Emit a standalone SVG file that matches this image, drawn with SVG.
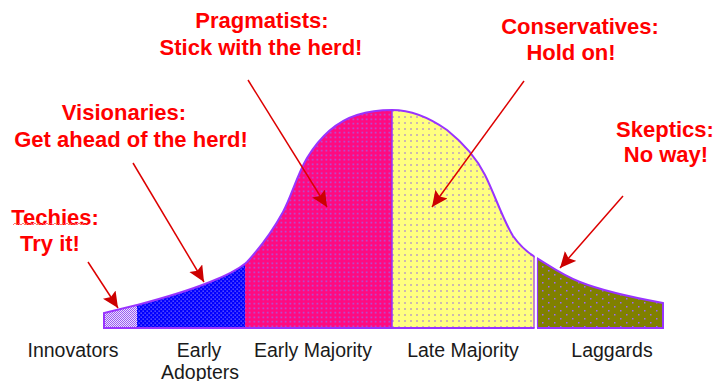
<svg xmlns="http://www.w3.org/2000/svg" xmlns:xlink="http://www.w3.org/1999/xlink" width="717" height="381" viewBox="0 0 717 381">
<style>
.lab{font-family:"Liberation Sans",Arial,sans-serif;font-size:19.5px;fill:#1a1a1a;text-anchor:middle}
.red{font-family:"Liberation Sans",Arial,sans-serif;font-size:22px;font-weight:bold;fill:#ff0000;text-anchor:middle}
.arr{stroke:#dd0000;stroke-width:1.5;fill:none;marker-end:url(#head)}
.edge{stroke:#9933ff;stroke-width:2;fill:none}
</style>
<defs>
<marker id="head" markerUnits="userSpaceOnUse" markerWidth="18" markerHeight="16" refX="16" refY="7.5" orient="auto">
<path d="M0,0 L16,7.5 L0,15 L3,7.5 Z" fill="#cc0000"/>
</marker>
<pattern id="pInn" width="2" height="2" patternUnits="userSpaceOnUse">
<rect width="2" height="2" fill="#eadcff"/><rect width="1" height="1" fill="#9a5ef0"/><rect x="1" y="1" width="1" height="1" fill="#9a5ef0"/>
</pattern>
<pattern id="pBlue" width="4" height="4" patternUnits="userSpaceOnUse">
<rect width="4" height="4" fill="#0000ff"/><rect x="0.5" y="0.5" width="1.3" height="1.3" fill="#7a6aff"/><rect x="2.5" y="2.5" width="1.3" height="1.3" fill="#7a6aff"/>
</pattern>
<pattern id="pPink" width="4.5" height="4.5" patternUnits="userSpaceOnUse">
<rect width="4.5" height="4.5" fill="#ff0a80"/><rect x="1.5" y="1.5" width="1.5" height="1.5" fill="#9a66f0"/>
</pattern>
<pattern id="pYel" width="6" height="6" patternUnits="userSpaceOnUse">
<rect width="6" height="6" fill="#ffff80"/><rect x="2.3" y="2.3" width="1.4" height="1.4" fill="#9a70e0"/>
</pattern>
<pattern id="pOl" width="12" height="8" patternUnits="userSpaceOnUse">
<rect width="12" height="8" fill="#808000"/><rect x="2" y="2" width="1.5" height="1.5" fill="#9a66ff"/><rect x="8" y="6" width="1.5" height="1.5" fill="#9a66ff"/>
</pattern>
<path id="bell" d="M104,328 L104,313 L137,305 C160,299 190,290 210,282 C225,276 238,270 247,262 C258,250 272,232 283,212 C292,195 297,175 307,158 C318,140 335,122 357,115 C370,111 380,110 392,110 C410,110 430,118 447,130 C462,142 475,155 485,175 C495,195 503,220 513,236 C520,246 527,252 535,257 C550,266 562,275 580,282 C600,290 630,297 663,303 L663,328 Z"/>
<clipPath id="cInn"><rect x="100" y="100" width="37" height="240"/></clipPath>
<clipPath id="cEA"><rect x="137" y="100" width="108" height="240"/></clipPath>
<clipPath id="cEM"><rect x="245" y="100" width="147" height="240"/></clipPath>
<clipPath id="cLM"><rect x="392" y="100" width="143" height="240"/></clipPath>
<clipPath id="cLag"><rect x="537" y="100" width="130" height="240"/></clipPath>
</defs>
<rect width="717" height="381" fill="#ffffff"/>

<g id="innovators">
<use xlink:href="#bell" fill="url(#pInn)" clip-path="url(#cInn)"/>
<text class="lab" x="73" y="357">Innovators</text>
</g>
<g id="early-adopters">
<use xlink:href="#bell" fill="url(#pBlue)" clip-path="url(#cEA)"/>
<text class="lab" x="199" y="357">Early</text>
<text class="lab" x="200" y="379">Adopters</text>
</g>
<g id="early-majority">
<use xlink:href="#bell" fill="url(#pPink)" clip-path="url(#cEM)"/>
<text class="lab" x="313" y="357">Early Majority</text>
</g>
<g id="late-majority">
<use xlink:href="#bell" fill="url(#pYel)" clip-path="url(#cLM)"/>
<text class="lab" x="463" y="357">Late Majority</text>
</g>
<g id="laggards">
<use xlink:href="#bell" fill="url(#pOl)" clip-path="url(#cLag)"/>
<text class="lab" x="612" y="357">Laggards</text>
</g>

<g id="outline">
<use xlink:href="#bell" class="edge" clip-path="url(#cInn)"/>
<use xlink:href="#bell" class="edge" clip-path="url(#cEA)"/>
<use xlink:href="#bell" class="edge" clip-path="url(#cEM)"/>
<use xlink:href="#bell" class="edge" clip-path="url(#cLM)"/>
<use xlink:href="#bell" class="edge" clip-path="url(#cLag)"/>
<line x1="392" y1="110" x2="392" y2="328" stroke="#9933ff" stroke-width="1.5"/>
<rect x="534.6" y="250" width="1.8" height="79" fill="#ffffff"/>
<line x1="534" y1="256" x2="534" y2="328" stroke="#9933ff" stroke-width="1.2"/>
<line x1="537.5" y1="258" x2="537.5" y2="328" stroke="#9933ff" stroke-width="1.2"/>
</g>

<g id="techies">
<text class="red" x="55" y="225">Techies:</text>
<text class="red" x="50" y="251">Try it!</text>
<path d="M13,225 l2,-2 l2,2 l2,-2 l2,2 l2,-2 l2,2 l2,-2 l2,2 l2,-2 l2,2 l2,-2 l2,2 l2,-2 l2,2 l2,-2 l2,2 l2,-2 l2,2 l2,-2 l2,2 l2,-2 l2,2 l2,-2 l2,2 l2,-2 l2,2 l2,-2 l2,2 l2,-2 l2,2 l2,-2 l2,2 l2,-2 l2,2 l2,-2 l2,2 l2,-2" stroke="#ff5050" stroke-width="0.8" fill="none"/>
</g>
<g id="visionaries">
<text class="red" x="124" y="120">Visionaries:</text>
<text class="red" x="131" y="147">Get ahead of the herd!</text>
</g>
<g id="pragmatists">
<text class="red" x="262" y="28">Pragmatists:</text>
<text class="red" x="261" y="55">Stick with the herd!</text>
</g>
<g id="conservatives">
<text class="red" x="580" y="34">Conservatives:</text>
<text class="red" x="571" y="60">Hold on!</text>
</g>
<g id="skeptics">
<text class="red" x="665" y="137">Skeptics:</text>
<text class="red" x="666" y="162">No way!</text>
</g>

<g id="connectors">
<line class="arr" x1="88" y1="262" x2="118" y2="308"/>
<line class="arr" x1="133" y1="163" x2="204" y2="282"/>
<line class="arr" x1="248" y1="80" x2="327" y2="207"/>
<line class="arr" x1="524" y1="81" x2="432" y2="207"/>
<line class="arr" x1="623" y1="196" x2="560" y2="268"/>
</g>
</svg>
